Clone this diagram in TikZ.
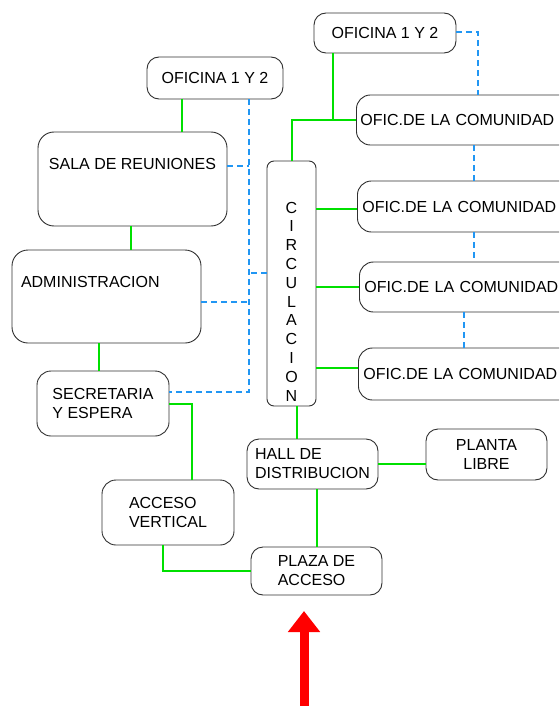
\documentclass[tikz,border=0pt]{standalone}
\usepackage{fontspec}
\setmainfont{Liberation Sans}
\usepackage{tikz}
\usetikzlibrary{arrows.meta,positioning,calc}
\definecolor{boxline}{HTML}{303030}
\definecolor{linkgreen}{HTML}{00E000}
\definecolor{busblue}{HTML}{2196F3}
\definecolor{entryred}{HTML}{FF0000}

\begin{document}
\begin{tikzpicture}[x=1pt, y=-1pt,
  every node/.style={font=\fontsize{16}{19}\selectfont},
  box/.style={draw=boxline,line width=0.9pt,rounded corners=12pt,inner sep=3pt,align=left},
  link/.style={draw=linkgreen,line width=2pt},
  bus/.style={draw=busblue,line width=2pt,dash pattern=on 6pt off 4pt},
  entry/.style={draw=entryred,line width=9pt,-{Triangle[width=31pt,length=21pt]}}]
\clip (0,0) rectangle (559,706);
% left wing
\node[box,minimum width=136pt,minimum height=42pt] (ofiL) at (215,78) {OFICINA 1 Y 2};
\node[box,minimum width=189pt,minimum height=94pt,rounded corners=16pt,
      text height=12pt,text depth=32pt] (sala) at (132.5,179) {SALA DE REUNIONES};
\node[box,minimum width=189pt,minimum height=93pt,rounded corners=16pt,
      inner xsep=9pt,text width=171pt,text height=12pt,text depth=31pt] (admin) at (106.5,296.5) {ADMINISTRACION};
\node[box,minimum width=132pt,minimum height=65pt,rounded corners=14pt] (secre) at (103,403.5) {SECRETARIA\\Y ESPERA};
\node[box,minimum width=132pt,minimum height=65pt,rounded corners=14pt] (acceso) at (168,512.5) {ACCESO\\VERTICAL};
% circulation spine
\node[box,minimum width=49pt,minimum height=245pt,rounded corners=7pt,align=center,
      font=\fontsize{16}{18.8}\selectfont,text height=235pt,text depth=0pt] (circ) at (291.5,283.5)
      {C\\I\\R\\C\\U\\L\\A\\C\\I\\O\\N};
% right wing
\node[box,minimum width=142pt,minimum height=40pt] (ofiR) at (385,33) {OFICINA 1 Y 2};
\node[box,anchor=west,minimum width=220pt,minimum height=50pt,rounded corners=14pt,
      inner xsep=4pt,text width=212pt] (com1) at (356,120) {OFIC.DE LA COMUNIDAD};
\node[box,anchor=west,minimum width=220pt,minimum height=51pt,rounded corners=14pt,
      inner xsep=5pt,text width=210pt] (com2) at (357,206.5) {OFIC.DE LA COMUNIDAD};
\node[box,anchor=west,minimum width=220pt,minimum height=50pt,rounded corners=14pt,
      inner xsep=5pt,text width=210pt] (com3) at (359,287) {OFIC.DE LA COMUNIDAD};
\node[box,anchor=west,minimum width=220pt,minimum height=52pt,rounded corners=14pt,
      inner xsep=5pt,text width=210pt] (com4) at (358,374) {OFIC.DE LA COMUNIDAD};
% entrance
\node[box,minimum width=131pt,minimum height=50pt] (hall) at (312.5,464) {HALL DE\\DISTRIBUCION};
\node[box,minimum width=121pt,minimum height=51pt,align=center] (planta) at (486.5,454.5) {PLANTA\\LIBRE};
\node[box,minimum width=131pt,minimum height=48pt] (plaza) at (316.5,571) {PLAZA DE\\ACCESO};
\coordinate (puerta) at (304,611);

% green links
\draw[link] (182,0 |- ofiL.south) -- (182,0 |- sala.north);
\draw[link] (131,0 |- sala.south) -- (131,0 |- admin.north);
\draw[link] (99,0 |- admin.south) -- (99,0 |- secre.north);
\draw[link] (secre.east) -| (192,0 |- acceso.north);
\draw[link] (163,0 |- acceso.south) |- (plaza.west);
\draw[link] (hall.south -| plaza.north) -- (plaza.north);
\draw[link] (hall.east) -- (hall.east -| planta.west);
\draw[link] (297,0 |- circ.south) -- (297,0 |- hall.north);
\draw[link] (circ.north) |- (com1.west);
\draw[link] (333,0 |- ofiR.south) -- (333,0 |- com1.west);
\draw[link] (circ.east |- 0,209) -- (com2.west |- 0,209);
\draw[link] (circ.east |- com3.west) -- (com3.west);
\draw[link] (circ.east |- 0,368) -- (com4.west |- 0,368);

% blue service links
\draw[bus] (249,0 |- ofiL.south) |- ([yshift=11.5pt]secre.east);
\draw[bus] ([yshift=13pt]sala.east) -- ++(22,0);
\draw[bus] ([yshift=-5.5pt]admin.east) -- ++(48,0);
\draw[bus] (circ.west |- 0,273) -- ++(-18,0);
\draw[bus] ([yshift=1pt]ofiR.east) -| (478,0 |- com1.north);
\draw[bus] (474,0 |- com1.south) -- (474,0 |- com2.north);
\draw[bus] (474,0 |- com2.south) -- (474,0 |- com3.north);
\draw[bus] (464,0 |- com3.south) -- (464,0 |- com4.north);

% entrance arrow
\draw[entry] (304,720) -- (puerta);
\end{tikzpicture}
\end{document}
